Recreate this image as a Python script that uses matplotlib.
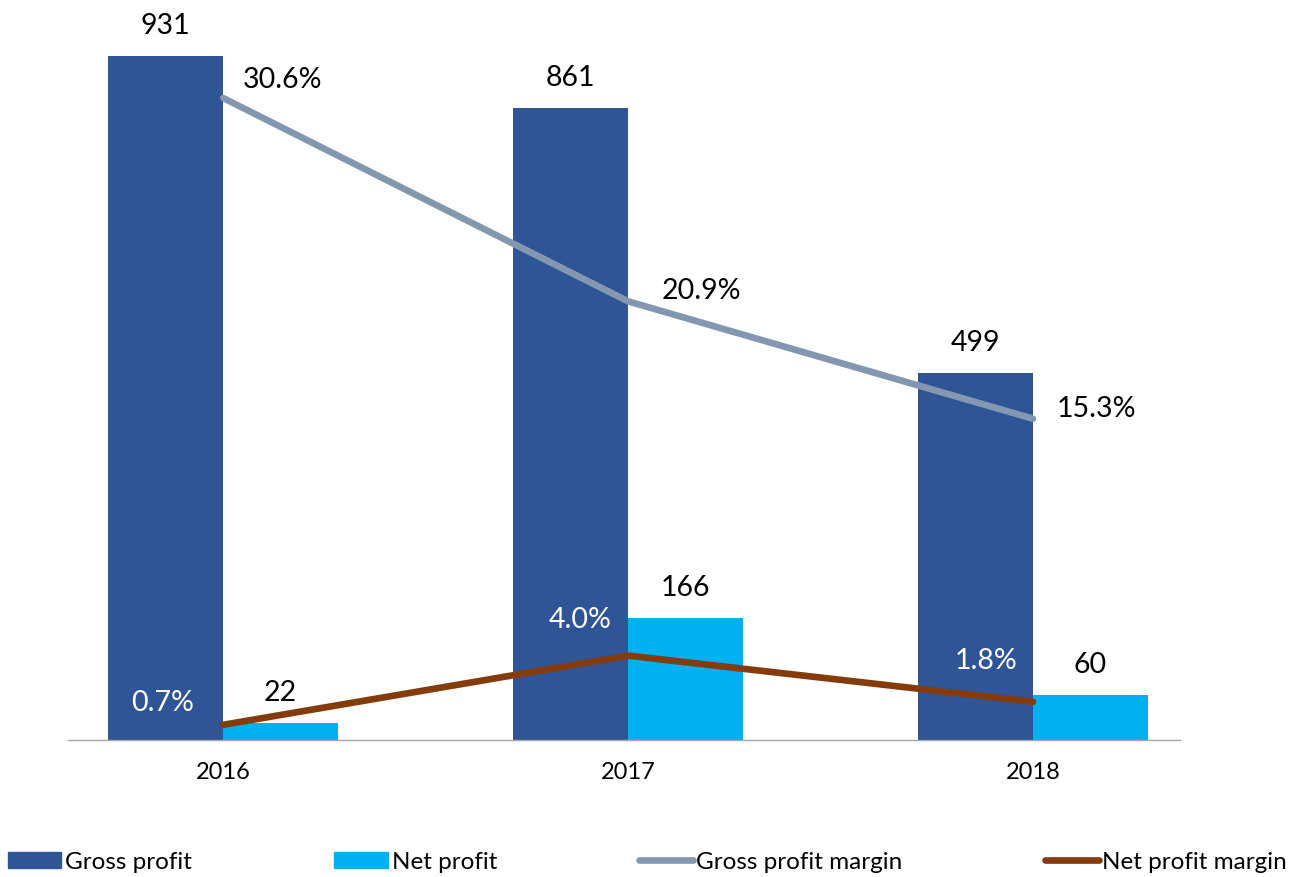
import matplotlib
matplotlib.use("Agg")
import matplotlib.pyplot as plt
from matplotlib.patches import Patch
from matplotlib.lines import Line2D
import numpy as np

plt.rcParams['font.family'] = ['Lato', 'DejaVu Sans']

years = ["2016", "2017", "2018"]
gross_profit = [931, 861, 499]
net_profit = [22, 166, 60]
gross_margin = [0.306, 0.209, 0.153]
net_margin = [0.007, 0.040, 0.018]

C_GROSS = "#2F5597"
C_NET = "#00B0F0"
C_GM = "#8497B0"
C_NM = "#843C0C"

W, H = 1291, 877
fig = plt.figure(figsize=(W / 100, H / 100), dpi=100)
ax = fig.add_axes([68 / W, (H - 739.5) / H, (1180 - 68) / W, (739.5 - 5.7) / H])
ax2 = ax.twinx()

x = np.arange(len(years))
bw = 0.284
ax.bar(x - bw / 2, gross_profit, bw, color=C_GROSS, zorder=2)
ax.bar(x + bw / 2, net_profit, bw, color=C_NET, zorder=2)
ax.set_xlim(-0.383, 2.363)
ax.set_ylim(0, 1000)
ax2.set_ylim(0, 0.35)

ax2.plot(x, gross_margin, color=C_GM, lw=4.8, solid_capstyle='round', solid_joinstyle='round')
ax2.plot(x, net_margin, color=C_NM, lw=4.8, solid_capstyle='round', solid_joinstyle='round')

lab_fs = 20.5
for xi, v in zip(x, gross_profit):
    ax.annotate(f"{v}", (xi - bw / 2, v), xytext=(0, 30), textcoords='offset pixels',
                ha='center', va='center', fontsize=lab_fs, color='black')
for xi, v in zip(x, net_profit):
    ax.annotate(f"{v}", (xi + bw / 2, v), xytext=(0, 30), textcoords='offset pixels',
                ha='center', va='center', fontsize=lab_fs, color='black')

gm_off = [(20, 18), (34, 10), (24, 10)]
for xi, v, (dx, dy) in zip(x, gross_margin, gm_off):
    ax2.annotate(f"{v*100:.1f}%", (xi, v), xytext=(dx, dy), textcoords='offset pixels',
                 ha='left', va='center', fontsize=lab_fs, color='black')
nm_off = [(-29, 22), (-16, 36), (-16, 41)]
for xi, v, (dx, dy) in zip(x, net_margin, nm_off):
    ax2.annotate(f"{v*100:.1f}%", (xi, v), xytext=(dx, dy), textcoords='offset pixels',
                 ha='right', va='center', fontsize=lab_fs, color='white')

for a in (ax, ax2):
    for s in ('top', 'right', 'left'):
        a.spines[s].set_visible(False)
    a.set_yticks([])
ax2.spines['bottom'].set_visible(False)
ax.spines['bottom'].set_color('#A6A6A6')
ax.spines['bottom'].set_linewidth(1.0)
ax.set_xticks(x)
ax.set_xticklabels(years, fontsize=17)
ax.tick_params(axis='x', length=0, pad=16)

handles = [Patch(color=C_GROSS), Patch(color=C_NET),
           Line2D([], [], color=C_GM, lw=4.8, solid_capstyle='round'),
           Line2D([], [], color=C_NM, lw=4.8, solid_capstyle='round')]
labels = ["Gross profit", "Net profit", "Gross profit margin", "Net profit margin"]
fig.legend(handles, labels, loc='center', ncol=4, mode='expand',
           bbox_to_anchor=(8 / W, 0.005, 1279 / W, 0.024), frameon=False,
           fontsize=17.5, handlelength=2.2, handletextpad=0.15, borderpad=0,
           borderaxespad=0, handleheight=0.65)

fig.savefig("out.png", dpi=100)
